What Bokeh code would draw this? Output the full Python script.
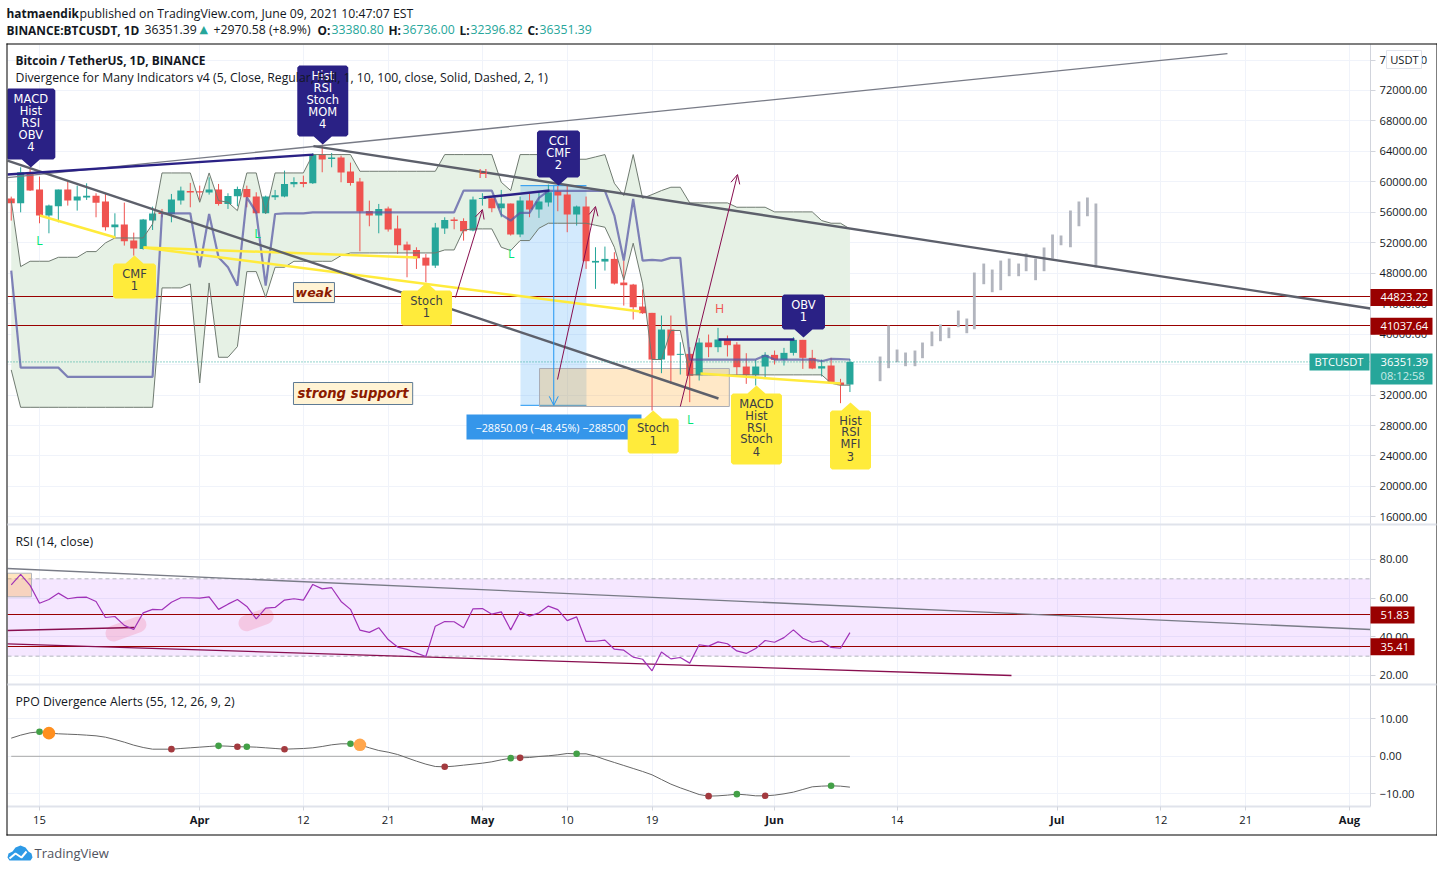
import math
from bokeh.plotting import figure
from bokeh.layouts import column
from bokeh.core.properties import value
from bokeh.models import (Range1d, FixedTicker, Arrow, OpenHead, Span)
from bokeh.embed import file_html
from bokeh.resources import INLINE

# ---------- data ----------
bar_days = list(range(-3, 87))
opens = [57800,57190,61260,58980,55565,56790,58980,57535,57930,58190,57405,54033,54383,52282,51187,54910,55960,55785,57535,58805,
 58761,58586,58980,57097,58105,59068,58061,55872,57973,58061,59681,59987,59812,63577,63008,63183,61344,60031,56178,55565,
 56485,53858,51757,51056,50049,49000,53858,55040,54865,53595,57760,57848,56535,57147,53077,57541,56360,57279,58767,58329,
 55703,56753,49400,49531,49881,46774,46511,43623,42792,36665,40604,37277,37409,34608,38897,38284,39291,38634,35745,34608,
 35745,37277,36621,37540,39247,36884,35483,35877,33645,33380.80]
closes = [57190,61260,58850,55565,56879,58980,57535,58060,58190,57270,54033,54383,52195,51231,55040,55828,55785,57667,58849,58586,
 58586,58980,57097,58148,59068,57973,55872,58061,58236,59725,59987,59725,63577,62920,63183,61213,59856,56090,55565,56441,
 53727,51669,51013,49961,49000,53989,54996,54865,53508,57667,57891,56535,57147,53077,57541,56360,57410,58636,58198,55703,
 56753,49575,49619,49881,46642,46424,43535,42746,36665,40604,37190,37409,34520,38897,38284,39291,38547,35658,34608,35745,
 37277,36621,37540,39247,36884,35483,35789,33557,33295,36351.39]
highs = [58060,61910,61830,60688,57010,58980,60162,59505,59812,58499,58411,55872,57273,53332,55128,56747,56440,58411,59375,59856,
 59505,60600,59725,58499,59375,59505,58630,58192,58936,61476,60600,60819,63752,64891,63796,63446,62526,60513,57535,57097,
 56747,55565,52150,51406,50531,54602,55347,55347,55215,58061,58504,57848,58942,57147,58066,58417,58636,59642,59467,59467,
 56885,58066,51413,51501,50757,49663,46599,45855,42792,42442,42442,38941,38284,39466,39947,40823,39816,38941,37496,36621,
 37628,37846,38197,39597,39247,37934,36665,36884,34126,36736.00]
lows = [54910,56000,58800,54559,53245,54690,56879,56222,57623,55347,53595,52720,51625,50312,51100,53680,55350,54690,57010,56660,
 57535,58324,56879,56441,56791,56660,55784,55784,57623,57973,59287,59287,59725,61257,61914,59944,59505,50881,54165,53245,
 53464,50531,47466,48560,46810,48692,53157,53770,52282,53508,56885,56009,55353,52946,52727,55353,55265,56753,56140,53383,
 54258,48569,45942,48349,46511,43754,41916,42659,29968,34870,33470,34695,31062,33907,36971,37628,37059,34564,33470,33251,
 34126,36008,35877,37190,35439,35395,34432,33470,30931,32396.82]
band_upper = [57540,48870,49570,49570,49570,50090,50090,50090,50840,50840,51980,52630,52630,52630,52630,54470,61170,61170,61170,61170,
 57320,61170,57540,57320,56220,61170,61170,55870,61170,61170,61170,61170,63580,63580,63580,63580,63580,61390,61390,61390,
 61390,61390,61390,61390,61390,61390,63580,63580,63580,63580,63580,63580,59949,58854,63580,63580,63580,62969,62969,62969,
 62969,62969,63275,63580,59817,58198,63580,57848,58330,58854,59292,59292,57235,57235,57235,57235,57235,56666,56666,56666,
 56666,56053,56053,56053,56053,56053,54915,54565,54565,53820]
band_lower = [35300,30390,30390,30390,30390,30390,30390,30390,30390,30390,30390,30390,30390,30390,30390,30390,46070,46070,46070,46590,
 33590,46720,36960,36960,38360,48210,48210,44840,48780,48780,49567,49567,49567,49567,49567,50312,50662,50662,50662,50662,
 50662,50662,50662,50662,50662,50662,51056,51056,53683,53814,53821,53821,51413,50976,52289,52289,53908,54565,54565,54565,
 54565,54565,54302,54040,51413,47124,51939,46599,36665,36665,40473,40473,34651,34651,34651,34651,34651,34651,34651,34651,
 34651,34651,34651,34651,34651,34651,34651,33557,33294,33294]
band_mid = [48340,35600,35600,35600,35600,35600,34380,34380,34380,34380,34380,34380,34380,34380,34380,34380,55870,55870,55870,55870,
 48780,55780,50090,48780,46370,57970,56000,46370,55780,55870,55870,55870,56000,56000,56000,56000,56000,56000,56000,56000,
 56000,56000,56000,56000,56000,56000,56000,56000,58850,58850,58850,58850,55703,54915,55922,55922,57891,58810,58810,58810,
 58810,58810,58810,58810,55572,49663,57760,49663,49750,49650,50012,50012,36665,36665,36665,36665,36665,36665,36665,36665,
 37190,36665,36665,36665,36665,36665,36446,36752,36709,36665]
rsi = [66.9,72.3,66.6,57.4,59.3,62.6,59.7,60.4,60.5,58.3,50.0,50.5,45.9,43.8,52.4,54.2,54.0,57.9,60.2,60.2,
 60.0,60.7,54.2,56.9,59.3,55.7,49.3,54.8,55.2,59.0,59.7,59.0,67.1,64.8,65.4,58.3,54.2,43.5,42.3,44.7,
 38.6,34.7,33.5,31.6,29.8,45.5,47.9,47.8,44.7,54.5,54.6,51.7,52.9,43.6,52.9,50.7,52.4,55.9,54.1,48.4,
 50.3,37.6,37.7,38.3,33.6,33.1,29.5,28.4,22.4,32.1,28.6,29.3,26.4,35.9,35.2,37.4,36.4,32.7,31.4,34.0,
 38.1,37.2,39.6,43.6,39.3,37.2,37.9,34.5,34.1,42.2]
ppo = [4.84,5.64,6.26,6.53,6.17,6.0,5.9,5.8,5.64,5.46,5.1,4.48,3.77,2.97,2.35,1.9,1.9,1.9,2.08,2.26,
 2.44,2.62,2.79,2.7,2.53,2.53,2.44,2.26,2.08,1.9,1.99,2.08,2.26,2.62,3.06,3.33,3.33,3.06,2.26,1.55,
 1.1,0.48,-0.41,-1.3,-2.1,-2.72,-2.81,-2.63,-2.36,-2.1,-1.83,-1.47,-0.94,-0.5,-0.41,-0.32,-0.05,0.13,0.39,0.75,
 0.66,0.66,0.04,-0.85,-1.65,-2.45,-3.25,-4.05,-4.94,-6.19,-7.43,-8.41,-9.3,-10.19,-10.63,-10.54,-10.36,-10.1,-10.28,-10.54,
 -10.54,-10.36,-10.01,-9.56,-8.85,-8.14,-7.96,-7.87,-7.96,-8.23]
ppo_green_idx = [3,22,25,36,53,60,77,87]
ppo_red_idx = [17,24,29,46,54,74,80]
ppo_big_idx = [4,37]
ghost_days = [89.2,90.1,91.0,91.9,92.9,93.7,94.7,95.6,96.5,97.5,98.4,99.2,100.2,101.1,102.0,102.9,103.9,104.7,105.7,106.6,107.5,108.4,109.4,110.3,111.2,112.1]
ghost_top = [37059,41129,37978,37584,37847,38897,40342,41261,40866,43099,42048,48089,49270,48482,49664,49927,49270,50583,49927,51371,53078,52947,56230,57412,57937,57149]
ghost_bot = [33820,35527,36315,35789,35789,36840,38415,39072,39466,40910,40122,40648,46557,45506,45769,47607,47607,48264,47082,48264,49927,51678,51415,54173,55486,48745]

x_num_ticks = [0, 28, 37, 56, 65, 91, 119, 128]
x_num_labels = ["15", "12", "21", "10", "19", "14", "12", "21"]
x_month_ticks = [17, 47, 78, 108, 139]
x_month_labels = ["Apr", "May", "Jun", "Jul", "Aug"]
price_ticks = [16000,20000,24000,28000,32000,36000,40000,44000,48000,52000,56000,60000,64000,68000,72000,76000]
rsi_ticks = [20, 40, 60, 80]
ppo_ticks = [-10, 0, 10]
level_hi, level_lo, last_close = 44823.22, 41037.64, 36351.39
rsi_hi, rsi_lo = 51.83, 35.41

thin_line = ([-3.4, 126.06], [60562, 76844])
thick_a = ([-3.4, 72.05], [62795, 31545])
thick_b = ([29.07, 141.24], [64698, 43362])
navy_a = ([-3.4, 29.07], [60956, 63582])
navy_b = ([47.11, 54.12], [57936, 58856])
navy_c = ([72.05, 80.11], [39292, 39292])
yellow_a = ([0.03, 8.06], [55573, 52684])
yellow_b = ([11.04, 40.11], [51371, 50058])
yellow_c = ([11.04, 63.77], [51371, 42968])
yellow_d = ([70.14, 85.0], [34828, 33515])
arrows = [(44.14, 44806, 47.0, 56361), (54.97, 34040, 59.0, 56755), (68.0, 30495, 74.07, 60956)]
measure_box = (51.04, 58.04, 30650, 59500)
measure_mid = 54.57
date_box = (53.06, 73.2, 30495, 35484)
h_marks = ([47.08, 72.16], [61088, 43362])
l_marks = ([0, 23.13, 50.05, 69.05], [52290, 53210, 50584, 28788])
weak_box = (26.95, 31.3, 44150, 46776)
strong_box = (26.95, 39.6, 30757, 33646)
measure_tag = (45.31, 63.88, 26162, 29444)
callouts = [
 (-0.92, 61875, ["MACD","Hist","RSI","OBV","4"], "navy", 49),
 (30.06, 64895, ["Hist","RSI","Stoch","MOM","4"], "navy", 51),
 (55.07, 59512, ["CCI","CMF","2"], "navy", 43),
 (81.07, 39554, ["OBV","1"], "navy", 43),
 (10.08, 50321, ["CMF","1"], "yellow", 43),
 (41.07, 46776, ["Stoch","1"], "yellow", 51),
 (65.12, 29970, ["Stoch","1"], "yellow", 51),
 (76.08, 33252, ["MACD","Hist","RSI","Stoch","4"], "yellow", 51),
 (86.06, 31020, ["Hist","RSI","MFI","3"], "yellow", 41),
]
rsi_gray = ([-3.4, 141.24], [75.35, 43.8])
rsi_mag_a = ([-3.4, 103.14], [36.4, 20.0])
rsi_mag_b = ([-3.4, 10.08], [43.28, 44.83])
rsi_pink_a = ([7.85, 10.5], [41.73, 46.4])
rsi_pink_b = ([21.97, 24.0], [47.06, 50.7])
rsi_box = (-3.4, -0.85, 60.7, 72.9)

# ---------- style ----------
GREEN, RED = "#26a69a", "#ef5350"
NAVY, YELLOW = "#2a2185", "#ffeb3b"
GRID = "#f0f3fa"
SANS = "Open Sans"
TXT = "#131722"
XR = (-3.396, 141.24)
PXX, PXY = 1 / 9.424, 131.3
W = 1437
R = 67
L = 7
TOTAL_H = 863
P_TOP, P_BOT = 78039, 14998
P_SCALE = (P_TOP - P_BOT) / 480
R_TOP, R_BOT = 98.1, 15.34
R_SCALE = (R_TOP - R_BOT) / 160
AXIS_SIZE = "11.2px"


def make(height, yr, ticks, labels, top=0, bottom=0):
    p = figure(width=W, height=height, x_range=Range1d(*XR), y_range=Range1d(*yr), y_axis_location="right",
               toolbar_location=None, output_backend="svg", min_border_left=L, min_border_right=R,
               min_border_top=top, min_border_bottom=bottom, outline_line_color=None, background_fill_color="white")
    ya = p.yaxis[0]
    ya.ticker = FixedTicker(ticks=ticks)
    ya.major_label_overrides = dict(zip(ticks, labels))
    ya.major_label_text_font = SANS
    ya.major_label_text_font_size = AXIS_SIZE
    ya.major_label_text_color = TXT
    ya.axis_line_color = "#d1d4dc"
    ya.major_tick_line_color = "#d1d4dc"
    ya.major_tick_in = 0
    ya.major_tick_out = 5
    ya.minor_tick_line_color = None
    ya.major_label_standoff = 4
    p.ygrid.ticker = FixedTicker(ticks=ticks)
    p.ygrid.grid_line_color = GRID
    p.xgrid.ticker = FixedTicker(ticks=x_num_ticks + x_month_ticks)
    p.xgrid.grid_line_color = GRID
    p.xaxis.visible = False
    return p


def snapped_level(p, v, top_value, per_px, extra=0):
    """A one-pixel horizontal level that lands exactly on a pixel row, so it stays crisp."""
    row = math.floor((top_value - v) / per_px) + extra
    y = top_value - row * per_px
    p.line([XR[0], XR[1]], [y, y], line_color="#990000", line_width=1)


# ---------- price pane ----------
p1 = make(524, (P_BOT, P_TOP), price_ticks, [f"{v:.2f}" for v in price_ticks], top=44)
p1.varea(bar_days, band_lower, band_upper, fill_color="#e6f1e5")
p1.quad(left=[measure_box[0]], right=[measure_box[1]], bottom=[measure_box[2]], top=[measure_box[3]],
        fill_color="#2196f3", fill_alpha=0.2, line_color=None)
p1.segment(measure_box[0], measure_box[2], measure_box[1], measure_box[2], line_color="#2196f3", line_width=1)
p1.segment(measure_box[0], measure_box[3], measure_box[1], measure_box[3], line_color="#2196f3", line_width=1)
p1.quad(left=[date_box[0]], right=[date_box[1]], bottom=[date_box[2]], top=[date_box[3]],
        fill_color="#ff9800", fill_alpha=0.22, line_color="#a9acb5", line_width=1)
snapped_level(p1, level_hi, P_TOP, P_SCALE)
snapped_level(p1, level_lo, P_TOP, P_SCALE)
p1.add_layout(Span(location=last_close, dimension="width", line_color=GREEN, line_width=1, line_dash=[1, 2], level="glyph"))
p1.vbar(ghost_days, 0.3, ghost_bot, ghost_top, fill_color="#b2b5be", line_color=None)
up_i = [i for i in range(len(opens)) if closes[i] >= opens[i]]
dn_i = [i for i in range(len(opens)) if closes[i] < opens[i]]
for idx, col in ((up_i, GREEN), (dn_i, RED)):
    xs = [bar_days[i] for i in idx]
    p1.segment(xs, [highs[i] for i in idx], xs, [lows[i] for i in idx], line_color=col, line_width=1)
    p1.vbar(xs, 0.75, [min(opens[i], closes[i]) for i in idx], [max(opens[i], closes[i]) for i in idx],
            fill_color=col, line_color=None)
p1.line(bar_days, band_upper, line_color="#6f7a70", line_width=1)
p1.line(bar_days, band_lower, line_color="#6f7a70", line_width=1)
p1.line(bar_days, band_mid, line_color="#5a5aa6", line_width=2.2, line_alpha=0.75)
for seg in (yellow_a, yellow_b, yellow_c, yellow_d):
    p1.line(*seg, line_color=YELLOW, line_width=2.5)
p1.line(*thin_line, line_color="#787b86", line_width=1.3)
for seg in (thick_a, thick_b):
    p1.line(*seg, line_color="#5d606b", line_width=2.4)
for seg in (navy_a, navy_b, navy_c):
    p1.line(*seg, line_color=NAVY, line_width=2.4)
for (x0, y0, x1, y1) in arrows:
    p1.add_layout(Arrow(x_start=x0, y_start=y0, x_end=x1, y_end=y1, line_color="#880e4f", line_width=1,
                        end=OpenHead(size=9, line_color="#880e4f", line_width=1)))
p1.add_layout(Arrow(x_start=measure_mid, y_start=measure_box[3], x_end=measure_mid, y_end=measure_box[2],
                    line_color="#2196f3", line_width=1, end=OpenHead(size=9, line_color="#2196f3", line_width=1)))
p1.text(h_marks[0], h_marks[1], text=["H"] * len(h_marks[0]), text_color="#ef5350", text_font=value(SANS),
        text_font_size="12.5px", text_align="center", text_baseline="middle")
p1.text(l_marks[0], l_marks[1], text=["L"] * len(l_marks[0]), text_color="#00e676", text_font=value(SANS),
        text_font_size="12.5px", text_align="center", text_baseline="middle")

for b_, s, fs in ((weak_box, "weak", "12.5px"), (strong_box, "strong support", "13.2px")):
    p1.quad(left=[b_[0]], right=[b_[1]], bottom=[b_[2]], top=[b_[3]], fill_color="#fff3d4",
            line_color="#5d7a94", line_width=1)
    p1.text([(b_[0] + b_[1]) / 2], [(b_[2] + b_[3]) / 2], text=[s], text_color="#8b1a00", text_font=value("DejaVu Sans"),
            text_font_style="bold italic", text_font_size=fs, text_align="center", text_baseline="middle")

p1.quad(left=[measure_tag[0]], right=[measure_tag[1]], bottom=[measure_tag[2]], top=[measure_tag[3]],
        fill_color="#3596ea", line_color=None)
p1.text([measure_tag[0] + 9 * PXX], [(measure_tag[2] + measure_tag[3]) / 2], text=["\u221228850.09 (\u221248.45%) \u2212288500"],
        text_color="white", text_font=value(SANS), text_font_size="10.8px", text_align="left", text_baseline="middle")

for (day, price, lines, kind, wid) in callouts:
    face = NAVY if kind == "navy" else YELLOW
    ink = "white" if kind == "navy" else "#3b3d46"
    n = len(lines)
    h = 12 * n + 11
    g = 8
    sgn = 1 if kind == "navy" else -1
    hw = wid / 2
    r = 2
    pts = [(0, 0), (9, g), (hw - r, g), (hw, g + r), (hw, g + h - r), (hw - r, g + h), (-hw + r, g + h), (-hw, g + h - r),
           (-hw, g + r), (-hw + r, g), (-9, g)]
    p1.patch([day + a * PXX for a, _ in pts], [price + sgn * b * PXY for _, b in pts], fill_color=face, line_color=None)
    ys = [g + h - 10 - 12 * k if kind == "navy" else g + 10 + 12 * k for k in range(n)]
    p1.text([day] * n, [price + sgn * b * PXY for b in ys], text=lines, text_color=ink, text_font=value("DejaVu Sans"),
            text_font_size="11.5px", text_align="center", text_baseline="middle")

# ---------- RSI pane ----------
p2 = make(160, (R_BOT, R_TOP), rsi_ticks, [f"{v:.2f}" for v in rsi_ticks])
p2.quad(left=[XR[0]], right=[XR[1]], bottom=[30], top=[70], fill_color="#9915ff", fill_alpha=0.1, line_color=None)
for lv in (30, 70):
    p2.line([XR[0], XR[1]], [lv, lv], line_color="#b2b5be", line_width=1, line_dash=[4, 3])
p2.quad(left=[rsi_box[0]], right=[rsi_box[1]], bottom=[rsi_box[2]], top=[rsi_box[3]], fill_color="#ff9800", fill_alpha=0.25, line_color="#b2b5be")
for seg in (rsi_pink_a, rsi_pink_b):
    p2.line(*seg, line_color="#f48fb1", line_alpha=0.35, line_width=16, line_cap="round")
snapped_level(p2, rsi_hi, R_TOP, R_SCALE, extra=1)
snapped_level(p2, rsi_lo, R_TOP, R_SCALE, extra=1)
p2.line(*rsi_gray, line_color="#787b86", line_width=1.3)
p2.line(*rsi_mag_a, line_color="#880e4f", line_width=1.3)
p2.line(*rsi_mag_b, line_color="#880e4f", line_width=1.3)
p2.line(bar_days, rsi, line_color="#a032b8", line_width=1.2)

# ---------- PPO pane ----------
ppo_labels = {-10: "\u221210.00", 0: "0.00", 10: "10.00"}
p3 = make(179, (-13.39, 19.15), ppo_ticks, [ppo_labels[v] for v in ppo_ticks], bottom=57)
p3.line([bar_days[0], bar_days[-1]], [0, 0], line_color="#a8a8a8", line_width=1)
p3.line(bar_days, ppo, line_color="#666666", line_width=1)
p3.circle([bar_days[i] for i in ppo_green_idx], [ppo[i] for i in ppo_green_idx], radius=3.3, radius_units="screen",
          fill_color="#43a047", line_color=None)
p3.circle([bar_days[i] for i in ppo_red_idx], [ppo[i] for i in ppo_red_idx], radius=3.3, radius_units="screen",
          fill_color="#a33a3f", line_color=None)
p3.circle([bar_days[ppo_big_idx[0]]], [ppo[ppo_big_idx[0]]], radius=6.3, radius_units="screen", fill_color="#ff8f1f", line_color=None)
p3.circle([bar_days[ppo_big_idx[1]]], [ppo[ppo_big_idx[1]]], radius=6.3, radius_units="screen", fill_color="#ffa64d", line_color=None)

xa = p3.xaxis[0]
xa.visible = True
all_x_ticks = x_num_ticks + x_month_ticks
xa.ticker = FixedTicker(ticks=all_x_ticks)
xa.major_label_overrides = {**dict(zip(x_num_ticks, x_num_labels)), **{t: " " for t in x_month_ticks}}
xa.major_label_text_font = SANS
xa.major_label_text_font_size = AXIS_SIZE
xa.major_label_text_color = TXT
xa.axis_line_color = "#e0e3eb"
xa.axis_line_width = 2
xa.major_tick_line_color = "#d1d4dc"
xa.major_tick_in = 0
xa.major_tick_out = 4
xa.minor_tick_line_color = None
xa.major_label_standoff = 1

# ---------- page overlay: header, pane titles, axis tags, frame, footer ----------
ov = figure(width=W, height=TOTAL_H, x_range=Range1d(0, W), y_range=Range1d(TOTAL_H, 0), toolbar_location=None,
            output_backend="svg", min_border=0, x_axis_location=None, y_axis_location=None, outline_line_color=None,
            background_fill_color=None, border_fill_color=None, margin=(-TOTAL_H, 0, 0, 0), frame_align=False)
ov.grid.visible = False


def y_price(v):
    return 44 + (P_TOP - v) / P_SCALE


def y_rsi(v):
    return 524 + (R_TOP - v) / R_SCALE + 1


def box(x0, x1, y0, y1, color, line=None):
    ov.quad(left=[x0], right=[x1], top=[y0], bottom=[y1], fill_color=color, line_color=line, line_width=1)


def text(x, y, s, size="12.25px", color=TXT, style="normal", align="left", font=SANS):
    ov.text([x], [y], text=[s], text_font=value(font), text_font_size=size, text_color=color, text_font_style=style,
            text_align=align, text_baseline="middle")


for lv in (level_hi, level_lo):
    yy = y_price(lv)
    box(1370, 1432, yy - 8.5, yy + 8.5, "#990000")
    text(1380, yy, f"{lv:.2f}", size=AXIS_SIZE, color="white")
yy = y_price(last_close)
box(1370, 1432, yy - 8.5, yy + 22.5, GREEN)
text(1380, yy, f"{last_close:.2f}", size=AXIS_SIZE, color="white")
text(1380, yy + 14, "08:12:58", size=AXIS_SIZE, color="#c8ebe7")
box(1309, 1369, yy - 8.5, yy + 8.5, GREEN)
text(1314, yy, "BTCUSDT", size=AXIS_SIZE, color="white")
box(1386, 1421, 50, 68, "white", "#e0e3eb")
text(1404, 59, "USDT", size=AXIS_SIZE, align="center")
for v in (rsi_hi, rsi_lo):
    yy = y_rsi(v)
    box(1370, 1414, yy - 8.5, yy + 8.5, "#990000")
    text(1380, yy, f"{v:.2f}", size=AXIS_SIZE, color="white")

for d, s in zip(x_month_ticks, x_month_labels):
    text(39 + 9.424 * d, 819, s, size=AXIS_SIZE, style="bold", align="center")

box(6, 1437, 43, 44, "black")
box(6, 7, 43, 835, "black")
box(1436, 1437, 43, 835, "black")
box(6, 1437, 834, 835, "black")
box(7, 1436, 523, 525, "#e0e3eb")
box(7, 1436, 683, 685, "#e0e3eb")

text(15, 59.5, "Bitcoin / TetherUS, 1D, BINANCE", style="bold", size="11.9px")
text(15, 77, "Divergence for Many Indicators v4 (5, Close, Regular, Full, 1, 10, 100, close, Solid, Dashed, 2, 1)")
text(15, 541, "RSI (14, close)")
text(15, 701, "PPO Divergence Alerts (55, 12, 26, 9, 2)")

text(6, 12.5, "hatmaendik", style="bold", size="11.9px")
text(79, 12.5, "published on TradingView.com, June 09, 2021 10:47:07 EST")
text(6, 29, "BINANCE:BTCUSDT, 1D", style="bold", size="11.9px")
text(144, 29, "36351.39")
text(199, 29, "\u25b2", color=GREEN, font="DejaVu Sans", size="11px")
text(213, 29, "+2970.58 (+8.9%)")
for x0, k, x1, v in ((317, "O:", 331, "33380.80"), (388, "H:", 402, "36736.00"), (459, "L:", 470, "32396.82"), (527, "C:", 539, "36351.39")):
    text(x0, 29, k, style="bold", size="11.9px")
    text(x1, 29, v, color=GREEN)

logo_x = [7, 8, 12, 15, 20, 25, 28, 31, 32, 30, 9]
logo_y = [857, 853, 851, 847, 845, 847, 851, 853, 857, 860, 860]
ov.patch(logo_x, logo_y, fill_color="#2e9ae6", line_color=None)
ov.line([9, 15, 21, 26], [858, 853, 857, 851], line_color="white", line_width=2)
text(34, 852, "TradingView", size="13px", color="#50535e")

page = column(p1, p2, p3, ov, spacing=0)
open("out.html", "w").write(file_html(page, INLINE))
